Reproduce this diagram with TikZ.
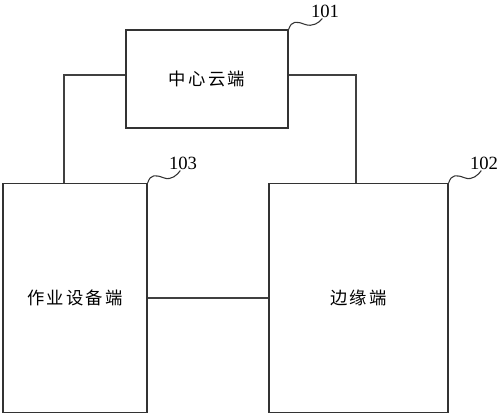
\documentclass[tikz,border=0pt]{standalone}
\usepackage{fontspec}
\setmainfont{Liberation Serif}
\newfontfamily\cjk[LetterSpace=13]{Noto Sans CJK SC}
\usetikzlibrary{positioning}

\begin{document}
\begin{tikzpicture}[x=0.75pt,y=0.75pt,yscale=-1,xscale=1]
\tikzset{
  blk/.style={draw={rgb, 255:red, 51; green, 51; blue, 51}, line width=1pt, inner sep=0pt, font=\cjk\fontsize{13}{15}\selectfont},
  link/.style={draw={rgb, 255:red, 64; green, 64; blue, 64}, line width=1pt},
  lead/.style={draw={rgb, 255:red, 51; green, 51; blue, 51}, line width=0.8pt},
  tag/.style={font=\fontsize{14}{16}\selectfont, inner sep=0.75pt},
}
\useasboundingbox (0,0) rectangle (500,416);

%Shape: Rectangle [cloud]
\node [blk, minimum width=121.5pt, minimum height=73.5pt] (cloud) at (207,79) {中心云端};
%Shape: Rectangle [device]
\node [blk, minimum width=108pt, minimum height=171.75pt] (dev) at (75,298) {作业设备端};
%Shape: Rectangle [edge]
\node [blk, minimum width=134.25pt, minimum height=171.75pt] (edge) at (358.5,298) {边缘端};

% Text Node
\node [tag] (n101) at (325,11) {101};
% Text Node
\node [tag] (n103) at (183,163) {103};
% Text Node
\node [tag] (n102) at (484,163) {102};

%Straight Lines
\coordinate (kneeL) at (64,75);
\coordinate (kneeR) at (356,75);
\draw [link] (dev.north -| kneeL) -- (kneeL) -- (cloud.west |- kneeL);
\draw [link] (edge.north -| kneeR) -- (kneeR) -- (cloud.east |- kneeR);
\draw [link] (dev.east) -- (edge.west);

%Curve Lines
\draw [lead] (cloud.north east) .. controls +(3,-9) and +(-8,-3) .. ++(16,-5) .. controls +(8,3) and +(-3,4) .. ([xshift=-2pt]n101.south);
\draw [lead] (dev.north east) .. controls +(3,-9) and +(-8,-3) .. ++(16,-5) .. controls +(8,3) and +(-3,4) .. ([xshift=-2pt]n103.south);
\draw [lead] (edge.north east) .. controls +(3,-9) and +(-8,-3) .. ++(16,-5) .. controls +(8,3) and +(-3,4) .. ([xshift=-2pt]n102.south);

\end{tikzpicture}
\end{document}
